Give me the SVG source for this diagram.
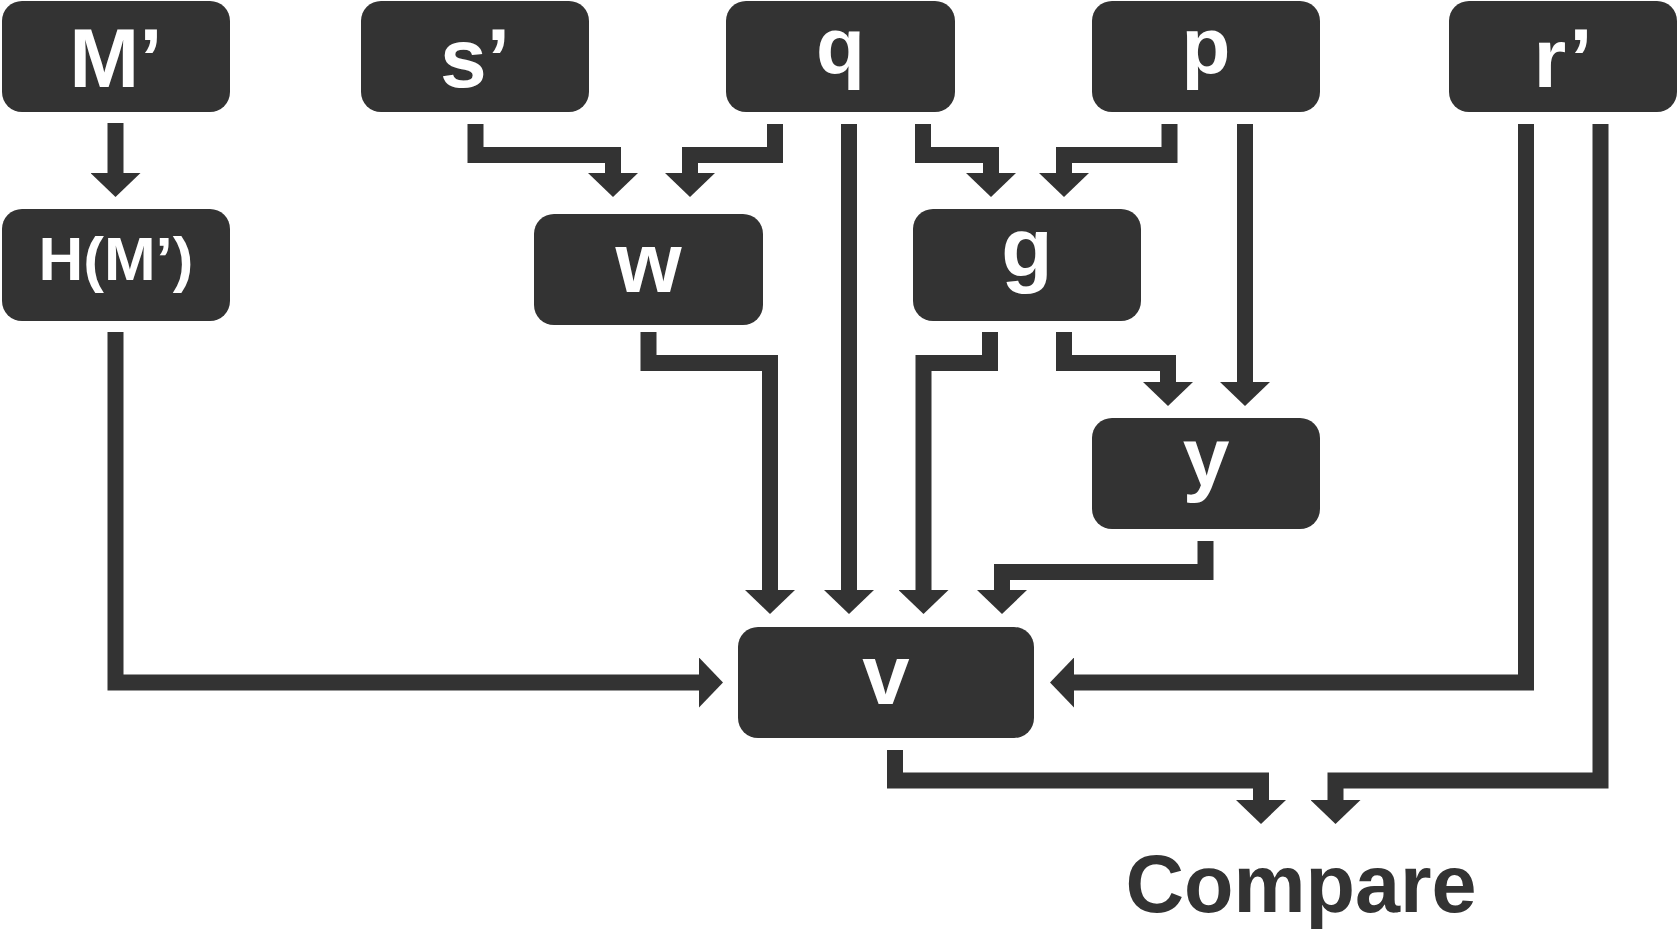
<svg xmlns="http://www.w3.org/2000/svg" width="1678" height="930" viewBox="0 0 1678 930">
<style>
.box{fill:#333333}
.lbl{fill:#ffffff;font-family:"Liberation Sans",Arial,sans-serif;font-weight:bold;text-anchor:middle}
.ln{fill:none;stroke:#333333;stroke-width:16;stroke-linejoin:miter;stroke-linecap:butt}
.ttl{fill:#333333;font-family:"Liberation Sans",Arial,sans-serif;font-weight:bold;text-anchor:middle}
</style>
<defs>
<marker id="ah" viewBox="0 -25 24 50" refX="0" refY="0" markerWidth="24" markerHeight="50" markerUnits="userSpaceOnUse" orient="auto">
<path d="M0,-25 L24,0 L0,25 Z" fill="#333333"/>
</marker>
</defs>
<rect width="1678" height="930" fill="#ffffff"/>
<g id="connectors">
<path class="ln" marker-end="url(#ah)" d="M115.5,123 V173"/>
<path class="ln" marker-end="url(#ah)" d="M475.5,124 V155 H613 V173"/>
<path class="ln" marker-end="url(#ah)" d="M775,124 V155 H690 V173"/>
<path class="ln" marker-end="url(#ah)" d="M849,124 V590"/>
<path class="ln" marker-end="url(#ah)" d="M923,124 V155 H991 V173"/>
<path class="ln" marker-end="url(#ah)" d="M1169.5,124 V155 H1064 V173"/>
<path class="ln" marker-end="url(#ah)" d="M1245,124 V382"/>
<path class="ln" marker-end="url(#ah)" d="M1526,124 V682.5 H1074"/>
<path class="ln" marker-end="url(#ah)" d="M1600.5,124 V780.5 H1335.5 V800"/>
<path class="ln" marker-end="url(#ah)" d="M115.5,332 V682.5 H699"/>
<path class="ln" marker-end="url(#ah)" d="M648.5,332 V363 H770 V590"/>
<path class="ln" marker-end="url(#ah)" d="M990,332 V363 H923.5 V590"/>
<path class="ln" marker-end="url(#ah)" d="M1064,332 V363 H1168 V382"/>
<path class="ln" marker-end="url(#ah)" d="M1205.5,541 V572 H1002 V590"/>
<path class="ln" marker-end="url(#ah)" d="M895,750 V780.5 H1261 V800"/>
</g>
<g id="node-M"><rect class="box" x="2" y="1" width="228" height="111" rx="20"/><text class="lbl" x="116" y="87" font-size="84">M’</text></g>
<g id="node-s"><rect class="box" x="361" y="1" width="228" height="111" rx="20"/><text class="lbl" x="475" y="87" font-size="84">s’</text></g>
<g id="node-q"><rect class="box" x="726" y="1" width="229" height="111" rx="20"/><text class="lbl" x="840.5" y="72.5" font-size="80">q</text></g>
<g id="node-p"><rect class="box" x="1092" y="1" width="228" height="111" rx="20"/><text class="lbl" x="1206" y="72.5" font-size="80">p</text></g>
<g id="node-r"><rect class="box" x="1449" y="1" width="228" height="111" rx="20"/><text class="lbl" x="1563" y="87" font-size="84">r’</text></g>
<g id="node-H"><rect class="box" x="2" y="209" width="228" height="112" rx="20"/><text class="lbl" x="116" y="280" font-size="62">H(M’)</text></g>
<g id="node-w"><rect class="box" x="534" y="214" width="229" height="111" rx="20"/><text class="lbl" x="648.5" y="292" font-size="85">w</text></g>
<g id="node-g"><rect class="box" x="913" y="209" width="228" height="112" rx="20"/><text class="lbl" x="1027" y="277" font-size="84">g</text></g>
<g id="node-y"><rect class="box" x="1092" y="418" width="228" height="111" rx="20"/><text class="lbl" x="1206" y="486" font-size="84">y</text></g>
<g id="node-v"><rect class="box" x="738" y="627" width="296" height="111" rx="20"/><text class="lbl" x="886" y="704" font-size="85">v</text></g>
<g id="node-compare"><text class="ttl" x="1301" y="912" font-size="81">Compare</text></g>
</svg>
